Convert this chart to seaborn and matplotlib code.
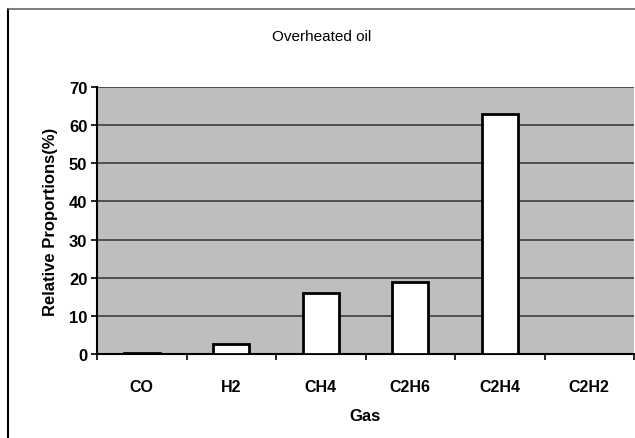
import matplotlib
matplotlib.use("Agg")
import matplotlib.pyplot as plt
import seaborn as sns
import pandas as pd
import numpy as np
from matplotlib.lines import Line2D

gases = ["CO", "H2", "CH4", "C2H6", "C2H4", "C2H2"]
values = [0.2, 2.5, 16.0, 19.0, 63.0, 0.0]
yticks = [0, 10, 20, 30, 40, 50, 60, 70]

df = pd.DataFrame({"Gas": gases, "Value": values})

sns.set_theme(style="white")
plt.rcParams["font.family"] = ["Liberation Sans", "DejaVu Sans"]
plt.rcParams["text.color"] = "black"
plt.rcParams["axes.labelcolor"] = "black"
plt.rcParams["xtick.color"] = "black"
plt.rcParams["ytick.color"] = "black"

fig = plt.figure(figsize=(6.35, 4.39), dpi=100)
ax = fig.add_axes([97/635, 1-355/439, (634-97)/635, (355-88)/439])
ax.set_facecolor("#bebebe")

sns.barplot(data=df, x="Gas", y="Value", order=gases, color="white",
            edgecolor="black", linewidth=2.0, width=0.4, ax=ax, zorder=3,
            saturation=1)

ax.set_ylim(0, 70)
ax.set_xlim(-0.5, 5.5)
ax.set_yticks(yticks)
ax.set_yticklabels([str(t) for t in yticks], fontsize=12, fontweight="bold")
for y in yticks[1:]:
    ax.axhline(y, color="#505050", lw=1.4, zorder=1)
ax.set_xticks(range(len(gases)))
ax.set_xticklabels(gases, fontsize=11.5, fontweight="bold")
ax.set_xticks(np.arange(-0.5, 6, 1), minor=True)
ax.tick_params(axis="x", which="major", length=0, pad=18)
ax.tick_params(axis="x", which="minor", length=4, width=1.2, color="black", direction="out", bottom=True)
ax.tick_params(axis="y", length=4, width=1.2, color="black", direction="out", left=True, pad=3)
ax.set_xlabel("Gas", fontsize=12, fontweight="bold", labelpad=10)
ax.set_ylabel("Relative Proportions(%)", fontsize=12, fontweight="bold", labelpad=8)
for s in ["top", "right"]:
    ax.spines[s].set_visible(False)
for s in ["left", "bottom"]:
    ax.spines[s].set_color("black")
    ax.spines[s].set_linewidth(1.5)

fig.text(322/635, 1-37/439, "Overheated oil", ha="center", va="center", fontsize=11)

# outer chart frame
fig.add_artist(Line2D([8/635, 8/635], [0, 1-10/439], color="black", lw=1.5, transform=fig.transFigure))
fig.add_artist(Line2D([8/635, 1], [1-10/439, 1-10/439], color="#666666", lw=1.2, transform=fig.transFigure))

fig.savefig("out.png", dpi=100)
